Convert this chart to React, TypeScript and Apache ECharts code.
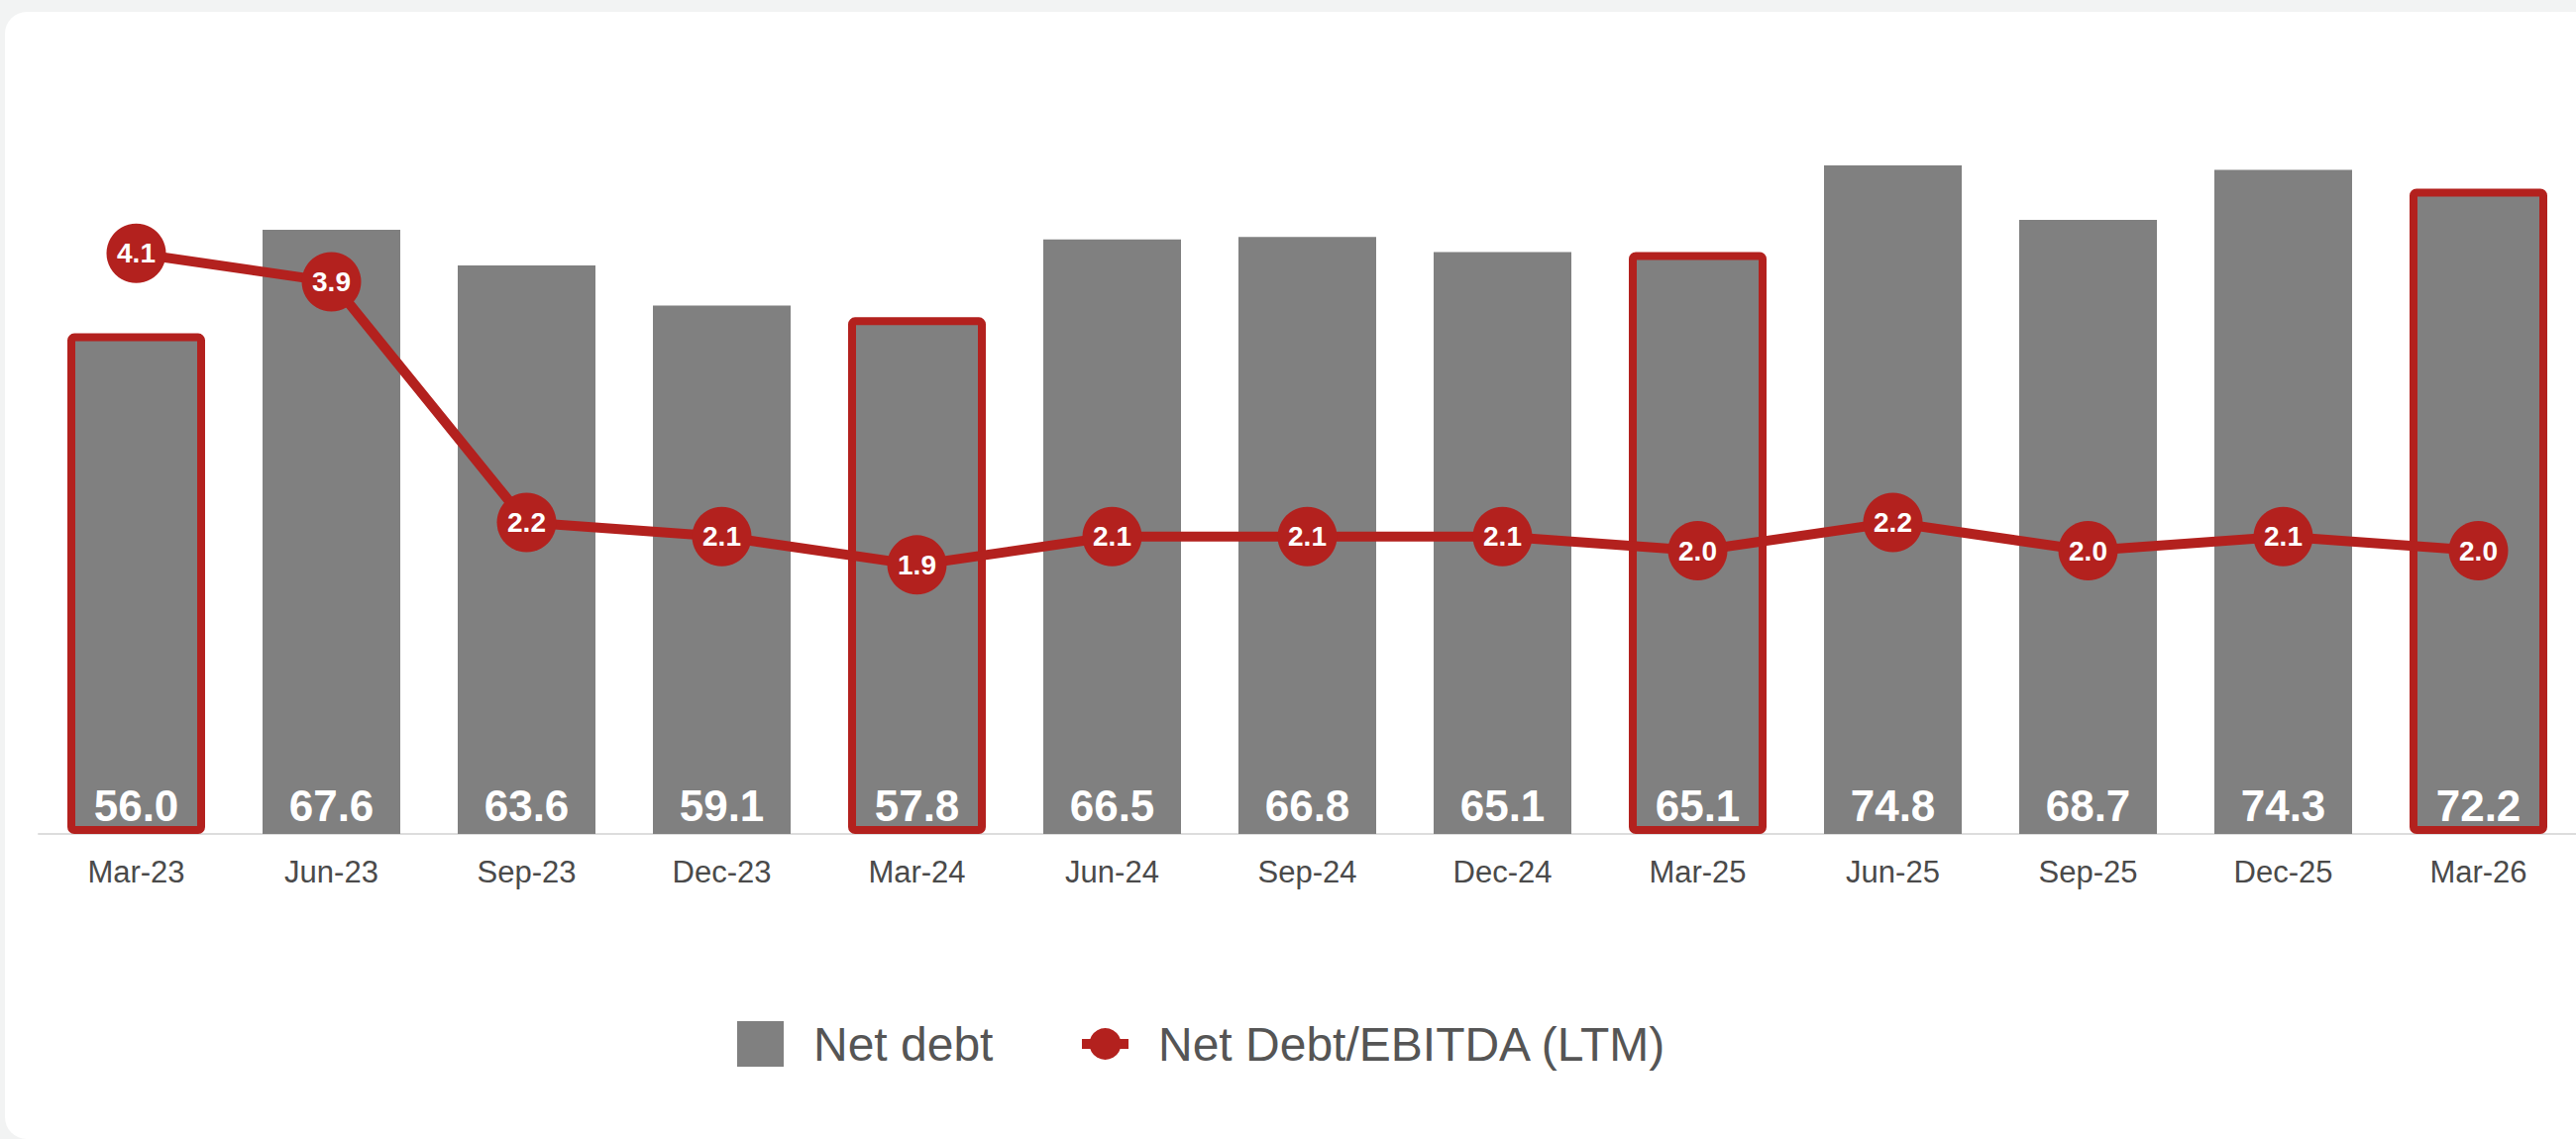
import React, { useEffect, useRef } from "react";
import * as echarts from "echarts";

const categories = [
  "Mar-23", "Jun-23", "Sep-23", "Dec-23", "Mar-24", "Jun-24", "Sep-24",
  "Dec-24", "Mar-25", "Jun-25", "Sep-25", "Dec-25", "Mar-26",
];
const netDebt = [56.0, 67.6, 63.6, 59.1, 57.8, 66.5, 66.8, 65.1, 65.1, 74.8, 68.7, 74.3, 72.2];
const netDebtEbitda = [4.1, 3.9, 2.2, 2.1, 1.9, 2.1, 2.1, 2.1, 2.0, 2.2, 2.0, 2.1, 2.0];
const highlighted = ["Mar-23", "Mar-24", "Mar-25", "Mar-26"];
const seriesNames = ["Net debt", "Net Debt/EBITDA (LTM)"];

const FONT = '"Liberation Sans", Arial, Helvetica, sans-serif';
const RED = "#b3211e";
const GRAY = "#808080";

export default function App() {
  const ref = useRef<HTMLDivElement>(null);

  useEffect(() => {
    if (!ref.current) return;
    const chart = echarts.init(ref.current, null, { renderer: "svg" });
    const barData = netDebt.map((v, i) =>
      highlighted.includes(categories[i])
        ? { value: v, itemStyle: { borderColor: RED, borderWidth: 8, borderRadius: 3 } }
        : { value: v }
    );
    chart.setOption({
      animation: false,
      textStyle: { fontFamily: FONT },
      grid: { left: 39, top: 120, width: 2568, height: 722, containLabel: false },
      legend: [
        {
          data: [seriesNames[0]],
          left: 739,
          top: 1025,
          itemWidth: 47,
          itemHeight: 46,
          icon: "rect",
          textStyle: { fontSize: 48, color: "#555555", fontFamily: FONT, padding: [0, 0, 0, 25] },
          selectedMode: false,
        },
        {
          data: [seriesNames[1]],
          left: 1082,
          top: 1025,
          itemWidth: 47,
          itemHeight: 40,
          lineStyle: { width: 10 },
          textStyle: { fontSize: 48, color: "#555555", fontFamily: FONT, padding: [0, 0, 0, 25] },
          selectedMode: false,
        },
      ],
      xAxis: {
        type: "category",
        data: categories,
        axisTick: { show: false },
        axisLine: { lineStyle: { color: "#dddddd", width: 2 } },
        axisLabel: { fontSize: 31, color: "#4a4a4a", margin: 23, fontFamily: FONT },
      },
      yAxis: [
        { type: "value", min: 0, max: 80, show: false, splitLine: { show: false } },
        { type: "value", min: 0, max: 5.05, show: false, splitLine: { show: false } },
      ],
      series: [
        {
          name: seriesNames[0],
          type: "bar",
          data: barData,
          barWidth: 139,
          itemStyle: { color: GRAY },
          label: {
            show: true,
            position: "insideBottom",
            distance: 7,
            color: "#ffffff",
            fontSize: 44,
            fontWeight: "bold",
            fontFamily: FONT,
            formatter: (p: any) => Number(p.value).toFixed(1),
          },
          z: 2,
        },
        {
          name: seriesNames[1],
          type: "line",
          yAxisIndex: 1,
          data: netDebtEbitda,
          symbol: "circle",
          symbolSize: 60,
          lineStyle: { color: RED, width: 10 },
          itemStyle: { color: RED },
          label: {
            show: true,
            position: "inside",
            color: "#ffffff",
            fontSize: 28,
            fontWeight: "bold",
            fontFamily: FONT,
            formatter: (p: any) => Number(p.value).toFixed(1),
          },
          z: 3,
        },
      ],
    });
    return () => chart.dispose();
  }, []);

  return (
    <div
      style={{
        position: "absolute",
        left: 0,
        top: 0,
        width: 2600,
        height: 1150,
        overflow: "hidden",
        background: "#f2f3f3",
      }}
    >
      <div
        style={{
          position: "absolute",
          left: 5,
          top: 12,
          width: 2640,
          height: 1138,
          background: "#ffffff",
          borderRadius: 22,
        }}
      />
      <div ref={ref} style={{ position: "absolute", left: 0, top: 0, width: 2600, height: 1150 }} />
    </div>
  );
}
